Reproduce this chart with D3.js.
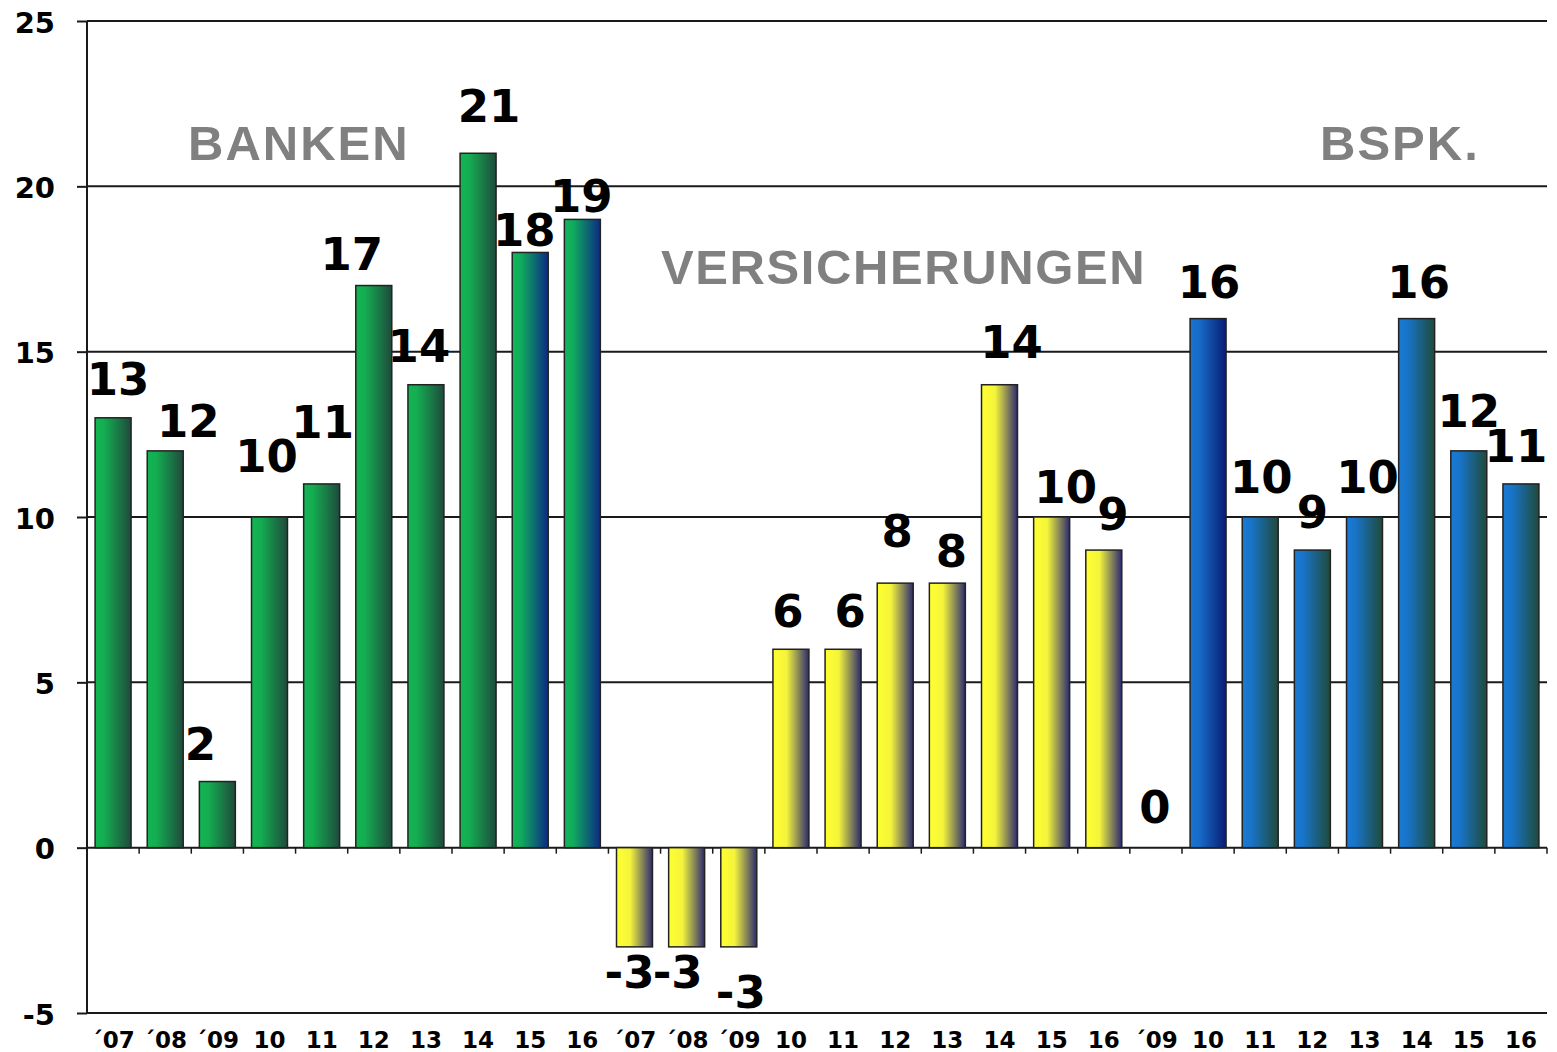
<!DOCTYPE html>
<html>
<head>
<meta charset="utf-8">
<script src="https://cdn.jsdelivr.net/npm/d3@7"></script>
<style>
  html, body { margin: 0; padding: 0; background: #fff; }
  svg { display: block; }
</style>
</head>
<body>
<div id="chart"></div>
<script>
// Profitability by sector: Banken / Versicherungen / Bausparkassen, ´07–16.
var bankenYears = ["´07", "´08", "´09", "10", "11", "12", "13", "14", "15", "16"];
var bankenValues = [13, 12, 2, 10, 11, 17, 14, 21, 18, 19];

var versYears = ["´07", "´08", "´09", "10", "11", "12", "13", "14", "15", "16"];
var versValues = [-3, -3, -3, 6, 6, 8, 8, 14, 10, 9];

var bspkYears = ["´09", "10", "11", "12", "13", "14", "15", "16"];
var bspkValues = [0, 16, 10, 9, 10, 16, 12, 11];

var yTicks = [-5, 0, 5, 10, 15, 20, 25];

// Hand nudges (px) for the value labels, which overlap in the original.
var labelNudge = [
  [5, -1], [23, 8], [-17, 0], [-3, -23], [1, -24], [-22, 6], [-7, -1], [11, -9], [-6, 16], [-1, 15],
  [-5, 0], [-9, 0], [2, 20], [-3, 0], [7, 0], [2, -14], [4, 6], [12, -5], [14, 8], [9, 2],
  [-1, -3], [1, 1], [1, -2], [0, 0], [3, -2], [2, 1], [0, -2], [-5, 0]
];

(function () {
  var rows = []
    .concat(bankenYears.map(function (y, i) { return { group: "banken", year: y, value: bankenValues[i] }; }))
    .concat(versYears.map(function (y, i) { return { group: "vers", year: y, value: versValues[i] }; }))
    .concat(bspkYears.map(function (y, i) { return { group: "bspk", year: y, value: bspkValues[i] }; }));
  rows.forEach(function (d, i) { d.i = i; });

  var W = 1557, H = 1052;
  var plotL = 87, plotR = 1547, plotT = 21, plotB = 1013;

  var svg = d3.select("#chart").append("svg")
    .attr("width", W).attr("height", H);

  var x = d3.scaleBand()
    .domain(rows.map(function (d) { return d.i; }))
    .range([plotL, plotR])
    .paddingInner(0.31).paddingOuter(0.155);

  var y = d3.scaleLinear().domain([-5, 25]).range([plotB, plotT]);

  // gradients, light on the left fading to dark on the right
  var grads = {
    green: [["0%", "#12b552"], ["25%", "#14ad51"], ["100%", "#1f4a3c"]],
    greenNavy: [["0%", "#10b858"], ["25%", "#10aa5e"], ["100%", "#0c2a84"]],
    yellow: [["0%", "#ffff30"], ["38%", "#f4f43c"], ["100%", "#2b2a70"]],
    blueNavy: [["0%", "#1a74d0"], ["25%", "#176cc8"], ["100%", "#0a1c74"]],
    blueGreen: [["0%", "#1a7ad4"], ["25%", "#1874c8"], ["100%", "#1f4a3a"]]
  };
  var defs = svg.append("defs");
  Object.keys(grads).forEach(function (k) {
    var g = defs.append("linearGradient").attr("id", "g-" + k)
      .attr("x1", "0%").attr("x2", "100%").attr("y1", "0%").attr("y2", "0%");
    grads[k].forEach(function (s) {
      g.append("stop").attr("offset", s[0]).attr("stop-color", s[1]);
    });
  });

  function gradFor(d) {
    if (d.group === "banken") return (d.year === "15" || d.year === "16") ? "greenNavy" : "green";
    if (d.group === "vers") return "yellow";
    return d.year === "10" ? "blueNavy" : "blueGreen";
  }

  // gridlines
  svg.append("g").selectAll("line")
    .data(yTicks).join("line")
    .attr("x1", plotL).attr("x2", plotR)
    .attr("y1", function (d) { return y(d); })
    .attr("y2", function (d) { return y(d); })
    .attr("stroke", "#1a1a1a").attr("stroke-width", 2);

  // y axis (plain hyphen minus, as in the original)
  var yAxis = svg.append("g")
    .attr("transform", "translate(" + plotL + ",0)")
    .call(d3.axisLeft(y).tickValues(yTicks).tickSize(10).tickPadding(22).tickFormat(String));
  yAxis.select(".domain").attr("stroke", "#1a1a1a").attr("stroke-width", 2)
    .attr("d", "M0," + plotT + "V" + plotB);
  yAxis.selectAll(".tick line").attr("stroke", "#1a1a1a").attr("stroke-width", 2);
  yAxis.selectAll("text")
    .attr("font-family", "DejaVu Sans, Verdana, sans-serif")
    .attr("font-weight", "bold").attr("font-size", 29)
    .attr("fill", "#000").attr("dy", "0.39em");

  // small ticks under the zero line at band boundaries
  svg.append("g").selectAll("line")
    .data(d3.range(1, rows.length + 1)).join("line")
    .attr("x1", function (i) { return plotL + i * x.step(); })
    .attr("x2", function (i) { return plotL + i * x.step(); })
    .attr("y1", y(0)).attr("y2", y(0) + 6)
    .attr("stroke", "#1a1a1a").attr("stroke-width", 1.5);

  // x axis labels
  var xAxis = svg.append("g")
    .attr("transform", "translate(0," + plotB + ")")
    .call(d3.axisBottom(x).tickSize(0).tickPadding(19)
      .tickFormat(function (i) { return rows[i].year; }));
  xAxis.select(".domain").remove();
  xAxis.selectAll("text")
    .attr("font-family", "DejaVu Sans, Verdana, sans-serif")
    .attr("font-weight", "bold").attr("font-size", 23)
    .attr("fill", "#000");

  // bars
  svg.append("g").selectAll("rect")
    .data(rows.filter(function (d) { return d.value !== 0; })).join("rect")
    .attr("x", function (d) { return x(d.i); })
    .attr("width", x.bandwidth())
    .attr("y", function (d) { return y(Math.max(0, d.value)); })
    .attr("height", function (d) { return Math.abs(y(d.value) - y(0)); })
    .attr("fill", function (d) { return "url(#g-" + gradFor(d) + ")"; })
    .attr("stroke", "#222").attr("stroke-width", 1.5);

  // value labels
  svg.append("g").selectAll("text")
    .data(rows).join("text")
    .attr("x", function (d) { return x(d.i) + x.bandwidth() / 2 + labelNudge[d.i][0]; })
    .attr("y", function (d) {
      var base = d.value < 0 ? y(d.value) + 41 : y(d.value) - 22;
      return base + labelNudge[d.i][1];
    })
    .attr("text-anchor", "middle")
    .attr("font-family", "DejaVu Sans, Verdana, sans-serif")
    .attr("font-weight", "bold").attr("font-size", 45)
    .attr("fill", "#000")
    .text(function (d) { return d.value; });

  // group titles
  var titles = [
    { text: "BANKEN", x: 188, y: 160, ls: 2 },
    { text: "VERSICHERUNGEN", x: 661, y: 284, ls: 1.6 },
    { text: "BSPK.", x: 1320, y: 160, ls: 2 }
  ];
  svg.append("g").selectAll("text")
    .data(titles).join("text")
    .attr("x", function (d) { return d.x; })
    .attr("y", function (d) { return d.y; })
    .attr("letter-spacing", function (d) { return d.ls; })
    .attr("font-family", "Liberation Sans, Arial, sans-serif")
    .attr("font-weight", "bold").attr("font-size", 49)
    .attr("fill", "#808080")
    .text(function (d) { return d.text; });
})();
</script>
</body>
</html>
